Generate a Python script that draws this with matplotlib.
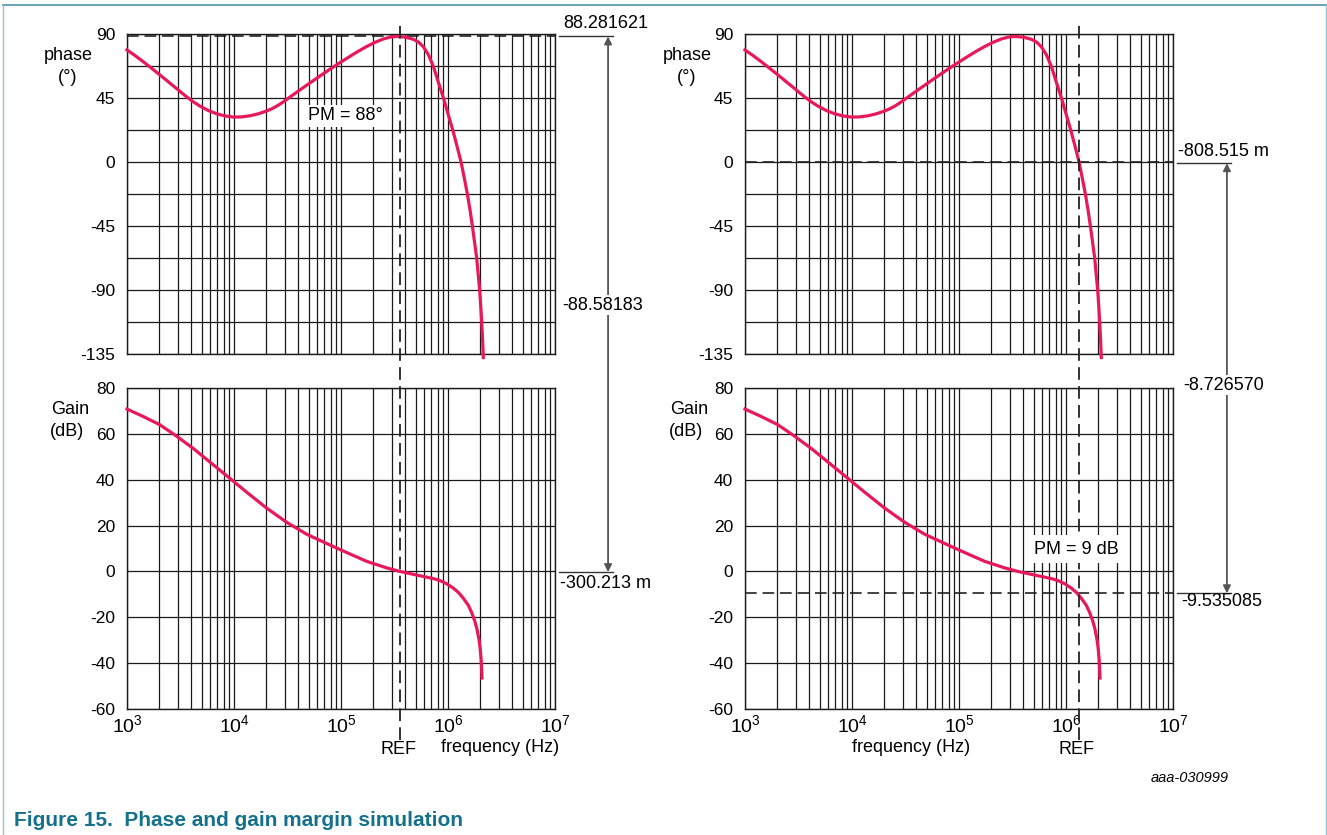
import numpy as np
import matplotlib
matplotlib.use('Agg')
import matplotlib.pyplot as plt
from matplotlib.lines import Line2D
from matplotlib.transforms import blended_transform_factory as blend
from matplotlib.ticker import LogLocator, FixedLocator, NullFormatter, LogFormatterMathtext

plt.rcParams['font.family'] = ['Liberation Sans', 'DejaVu Sans']
plt.rcParams['mathtext.fontset'] = 'custom'
plt.rcParams['mathtext.rm'] = 'Liberation Sans'
plt.rcParams['mathtext.it'] = 'Liberation Sans:italic'
plt.rcParams['mathtext.bf'] = 'Liberation Sans:bold'
plt.rcParams['axes.unicode_minus'] = False

# phase curve (Hz, degrees)
phase_freq = [1.0e3, 1.191e3, 1.419e3, 1.698e3, 2.032e3, 2.432e3, 2.911e3, 3.236e3,
              3.614e3, 4.169e3, 4.808e3, 5.754e3, 6.887e3, 8.222e3, 9.84e3, 1.175e4,
              1.413e4, 1.69e4, 2.023e4, 2.239e4, 2.512e4, 2.818e4, 3.162e4, 3.548e4,
              4.14e4, 5.129e4, 6.368e4, 7.413e4, 8.472e4, 1.0e5, 1.213e5, 1.445e5,
              1.738e5, 2.089e5, 2.483e5, 2.884e5, 3.311e5, 3.981e5, 4.742e5, 5.309e5,
              5.888e5, 6.546e5, 7.295e5, 8.07e5, 9.06e5, 1.002e6, 1.107e6, 1.213e6,
              1.324e6, 1.419e6, 1.517e6, 1.607e6, 1.69e6, 1.77e6, 1.854e6, 1.914e6,
              1.977e6, 2.023e6, 2.065e6, 2.104e6, 2.138e6]
phase_deg = [78.8, 74.8, 70.5, 65.9, 61.2, 56.4, 51.6, 48.7,
             45.8, 42.3, 39.3, 36.2, 33.9, 32.4, 31.6, 31.7,
             32.5, 33.9, 35.9, 37.3, 39.3, 41.7, 44.4, 47.1,
             50.7, 55.6, 60.5, 63.9, 66.8, 70.3, 74.3, 77.8,
             81.2, 84.2, 86.5, 87.8, 88.3, 87.8, 86.3, 84.3,
             81.0, 75.5, 67.3, 56.8, 45.0, 33.8, 22.5, 11.3,
             0.0, -11.2, -22.5, -33.8, -45.0, -56.2, -67.5, -78.8,
             -90.0, -101.2, -112.5, -124.5, -137.5]

# gain curve (Hz, dB)
gain_freq = [1.0e3, 1.413e3, 2.023e3, 2.884e3, 4.169e3, 5.888e3, 8.511e3, 1.318e4,
             1.995e4, 3.09e4, 4.786e4, 7.413e4, 1.122e5, 1.738e5, 2.692e5, 3.548e5,
             5.495e5, 7.413e5, 8.511e5, 9.75e5, 1.122e6, 1.253e6, 1.396e6, 1.549e6,
             1.66e6, 1.778e6, 1.862e6, 1.95e6, 1.995e6, 2.042e6, 2.08e6]
gain_db = [70.8, 67.6, 64.0, 59.1, 53.6, 47.9, 41.8, 34.5,
           27.8, 21.5, 16.2, 12.1, 8.3, 4.4, 1.5, 0.0,
           -1.9, -3.2, -4.1, -5.4, -7.3, -9.2, -11.8, -14.8,
           -17.8, -21.6, -25.0, -29.8, -33.3, -38.5, -46.5]

phase_ticks = [90, 45, 0, -45, -90, -135]
phase_minor = [67.5, 22.5, -22.5, -67.5, -112.5]
gain_ticks = [80, 60, 40, 20, 0, -20, -40, -60]

ref_left = 3.55e5     # gain crossover
ref_right = 1.31e6    # phase crossover
pm_top = 88.281621
pm_span = "-88.58183"
gain_at_ref = -0.300213
phase_at_ref = -0.808515
gm_span = "-8.726570"
gm_level = -9.535085

W, H = 1327, 835
curve_col = '#e8195a'
grid_col = '#1a1a1a'

fig = plt.figure(figsize=(W / 100, H / 100), dpi=100)

def fx(x):
    return x / W

def fy(y):
    return 1 - y / H

def setup(ax, ylim, ticks, minor, xlabels):
    ax.set_xscale('log')
    ax.set_xlim(1e3, 1e7)
    ax.set_ylim(*ylim)
    ax.set_yticks(ticks)
    ax.yaxis.set_minor_locator(FixedLocator(minor))
    ax.xaxis.set_major_locator(LogLocator(base=10, numticks=10))
    ax.xaxis.set_minor_locator(LogLocator(base=10, subs=np.arange(2, 10), numticks=20))
    ax.xaxis.set_minor_formatter(NullFormatter())
    if xlabels:
        ax.xaxis.set_major_formatter(LogFormatterMathtext())
    else:
        ax.xaxis.set_major_formatter(NullFormatter())
    ax.grid(True, which='both', color=grid_col, lw=0.9)
    ax.set_axisbelow(True)
    ax.tick_params(which='both', length=0, labelsize=12.5, pad=8.5)
    ax.tick_params(axis='x', pad=4, labelsize=14)
    for s in ax.spines.values():
        s.set_color(grid_col)
        s.set_linewidth(1)

axes = []
for left in (127, 745):
    ax_p = fig.add_axes([fx(left), fy(354), fx(428), 320 / H])
    ax_g = fig.add_axes([fx(left), fy(709), fx(428), 321 / H])
    setup(ax_p, (-135, 90), phase_ticks, phase_minor, False)
    setup(ax_g, (-60, 80), gain_ticks, [], True)
    ax_p.plot(phase_freq, phase_deg, color=curve_col, lw=2.3, clip_on=False, zorder=5)
    ax_g.plot(gain_freq, gain_db, color=curve_col, lw=2.3, clip_on=False, zorder=5)
    axes.append((ax_p, ax_g))

dash = (0, (7, 3.5))

# left: phase margin
ax_p, ax_g = axes[0]
ax_p.axhline(pm_top, color='#222222', lw=1.2, ls=dash, zorder=3)
fig.add_artist(Line2D([ref_left, ref_left], [fy(740), fy(22)], transform=blend(ax_g.transData, fig.transFigure),
                      color='#222222', lw=1.3, ls=dash))
ax_p.plot([1.009, 1.136], [pm_top, pm_top], transform=blend(ax_p.transAxes, ax_p.transData),
          color='#333333', lw=1, clip_on=False)
ax_g.plot([1.009, 1.136], [gain_at_ref, gain_at_ref], transform=blend(ax_g.transAxes, ax_g.transData),
          color='#333333', lw=1, clip_on=False)
ax_g.annotate('', xy=(1.124, gain_at_ref), xycoords=blend(ax_g.transAxes, ax_g.transData),
              xytext=(1.124, pm_top), textcoords=blend(ax_p.transAxes, ax_p.transData),
              arrowprops=dict(arrowstyle='<|-|>', color='#555555', lw=1.3, shrinkA=0, shrinkB=0,
                              mutation_scale=11), annotation_clip=False)
fig.text(fx(563), fy(23), '%.6f' % pm_top, fontsize=13, ha='left', va='center')
fig.text(fx(603), fy(305), pm_span, fontsize=13, ha='center', va='center',
         bbox=dict(facecolor='white', edgecolor='none', pad=1))
fig.text(fx(560), fy(584), '%.3f m' % (gain_at_ref * 1000), fontsize=13, ha='left', va='center')
fig.text(fx(345), fy(116), 'PM = 88°', fontsize=13, ha='center', va='center',
         bbox=dict(facecolor='white', edgecolor='none', pad=2))
fig.text(fx(399), fy(750), 'REF', fontsize=13, ha='center', va='center')
fig.text(fx(500), fy(747), 'frequency (Hz)', fontsize=13, ha='center', va='center')

# right: gain margin
ax_p, ax_g = axes[1]
ax_p.axhline(0, color='#222222', lw=1.2, ls=dash, zorder=3)
ax_g.axhline(gm_level, color='#222222', lw=1.2, ls=dash, zorder=3)
fig.add_artist(Line2D([ref_right, ref_right], [fy(740), fy(22)], transform=blend(ax_g.transData, fig.transFigure),
                      color='#222222', lw=1.3, ls=dash))
ax_p.plot([1.009, 1.136], [phase_at_ref, phase_at_ref], transform=blend(ax_p.transAxes, ax_p.transData),
          color='#333333', lw=1, clip_on=False)
ax_g.plot([1.009, 1.136], [gm_level, gm_level], transform=blend(ax_g.transAxes, ax_g.transData),
          color='#333333', lw=1, clip_on=False)
ax_g.annotate('', xy=(1.126, gm_level), xycoords=blend(ax_g.transAxes, ax_g.transData),
              xytext=(1.126, phase_at_ref), textcoords=blend(ax_p.transAxes, ax_p.transData),
              arrowprops=dict(arrowstyle='<|-|>', color='#555555', lw=1.3, shrinkA=0, shrinkB=0,
                              mutation_scale=11), annotation_clip=False)
fig.text(fx(1178), fy(151), '%.3f m' % (phase_at_ref * 1000), fontsize=13, ha='left', va='center')
fig.text(fx(1224), fy(385), gm_span, fontsize=13, ha='center', va='center',
         bbox=dict(facecolor='white', edgecolor='none', pad=1))
fig.text(fx(1181), fy(601), '%.6f' % gm_level, fontsize=13, ha='left', va='center')
fig.text(fx(1076), fy(549), 'PM = 9 dB', fontsize=13, ha='center', va='center',
         bbox=dict(facecolor='white', edgecolor='none', pad=4))
fig.text(fx(1077), fy(750), 'REF', fontsize=13, ha='center', va='center')
fig.text(fx(911), fy(747), 'frequency (Hz)', fontsize=13, ha='center', va='center')

# axis titles
for x0 in (68, 687):
    fig.text(fx(x0), fy(55), 'phase', fontsize=13, ha='center', va='center')
    fig.text(fx(x0), fy(78), '(°)', fontsize=13, ha='center', va='center')
    fig.text(fx(x0 + 2), fy(410), 'Gain', fontsize=13, ha='center', va='center')
    fig.text(fx(x0 - 1), fy(432), '(dB)', fontsize=13, ha='center', va='center')

fig.text(fx(1190), fy(778), 'aaa-030999', fontsize=10.5, style='italic', ha='center', va='center')
fig.text(fx(14), fy(820), 'Figure 15.  Phase and gain margin simulation', fontsize=15, fontweight='bold',
         color='#13718c', ha='left', va='center')

# frame
fig.add_artist(Line2D([fx(3), fx(1326)], [fy(5), fy(5)], transform=fig.transFigure, color='#5a9cb3', lw=1.3))
fig.add_artist(Line2D([fx(3.5), fx(3.5)], [fy(5), 0], transform=fig.transFigure, color='#8fc3d6', lw=1))
fig.add_artist(Line2D([fx(1325.5), fx(1325.5)], [fy(5), 0], transform=fig.transFigure, color='#8fc3d6', lw=1))

fig.savefig('out.png', dpi=100)
